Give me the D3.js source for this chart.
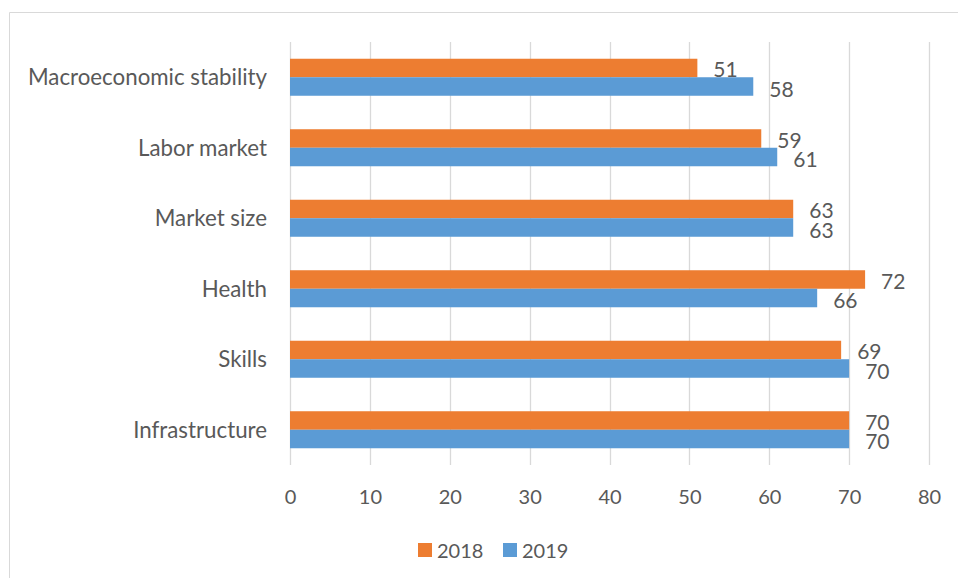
<!DOCTYPE html>
<html>
<head>
<meta charset="utf-8">
<script src="https://cdn.jsdelivr.net/npm/d3@7"></script>
<style>
  html, body { margin: 0; padding: 0; background: #fff; }
  svg { display: block; }
  text { font-family: Lato, "Open Sans", sans-serif; fill: #595959; }
</style>
</head>
<body>
<svg id="chart" width="958" height="578"></svg>
<script>
// Pillar scores by year
const categories = ["Macroeconomic stability", "Labor market", "Market size", "Health", "Skills", "Infrastructure"];
const series = ["2018", "2019"];
const values2018 = [51, 59, 63, 72, 69, 70];
const values2019 = [58, 61, 63, 66, 70, 70];
const xTicks = [0, 10, 20, 30, 40, 50, 60, 70, 80];
const colors = ["#ED7D31", "#5B9BD5"];

const svg = d3.select("#chart");
const W = 958, H = 578;

// outer frame (top and left edges visible)
svg.append("line").attr("x1", 9.5).attr("x2", W).attr("y1", 12.5).attr("y2", 12.5)
  .attr("stroke", "#D9D9D9").attr("stroke-width", 1);
svg.append("line").attr("x1", 9.5).attr("x2", 9.5).attr("y1", 12.5).attr("y2", H)
  .attr("stroke", "#D9D9D9").attr("stroke-width", 1);

const plot = { left: 290, right: 929, top: 42, bottom: 465 };

const x = d3.scaleLinear().domain([0, 80]).range([plot.left, plot.right]);
const y = d3.scaleBand().domain(categories).range([plot.top, plot.bottom]).paddingInner(0.475).paddingOuter(0.2375);
const ySub = d3.scaleBand().domain(series).range([0, y.bandwidth()]);

// vertical gridlines
svg.append("g").selectAll("line").data(xTicks).join("line")
  .attr("x1", d => Math.round(x(d)) + 0.5).attr("x2", d => Math.round(x(d)) + 0.5)
  .attr("y1", plot.top).attr("y2", plot.bottom)
  .attr("stroke", "#D9D9D9").attr("stroke-width", 1.3);

// x axis tick labels
const xAxis = d3.axisBottom(x).tickValues(xTicks).tickSize(0).tickPadding(0).tickFormat(d3.format("d"));
const gx = svg.append("g").attr("transform", `translate(0,${plot.bottom + 39})`).call(xAxis);
gx.select(".domain").remove();
gx.selectAll("text").attr("dy", 0).attr("font-size", 20).style("font-family", "Lato, sans-serif").attr("fill", "#595959");

// category labels
const yAxis = d3.axisLeft(y).tickSize(0).tickPadding(0);
const gy = svg.append("g").attr("transform", `translate(${plot.left - 23},0)`).call(yAxis);
gy.select(".domain").remove();
gy.selectAll("text").attr("font-size", 22.3).attr("dy", "0.36em")
  .style("font-family", "Lato, sans-serif").attr("fill", "#595959");

// bars
const rows = categories.map((c, i) => ({ cat: c, vals: [values2018[i], values2019[i]] }));
const groups = svg.append("g").selectAll("g").data(rows).join("g")
  .attr("transform", d => `translate(0,${y(d.cat)})`);

groups.selectAll("rect").data(d => d.vals.map((v, j) => ({ s: series[j], v, j }))).join("rect")
  .attr("x", x(0))
  .attr("y", d => ySub(d.s))
  .attr("width", d => x(d.v) - x(0))
  .attr("height", ySub.bandwidth())
  .attr("fill", d => colors[d.j]);

// value labels
groups.selectAll("text").data(d => d.vals.map((v, j) => ({ s: series[j], v, j }))).join("text")
  .attr("x", d => x(d.v) + 16)
  .attr("y", d => ySub(d.s) + ySub.bandwidth() / 2 + (d.j === 0 ? 1.5 : 2.5))
  .attr("dy", "0.36em")
  .attr("font-size", 21)
  .attr("fill", "#404040")
  .text(d => d.v);

// legend
const legend = svg.append("g").attr("transform", "translate(418,543)");
const li = legend.selectAll("g").data(series).join("g")
  .attr("transform", (d, i) => `translate(${i * 85},0)`);
li.append("rect").attr("width", 14).attr("height", 14).attr("fill", (d, i) => colors[i]);
li.append("text").attr("x", 19).attr("y", 15).attr("font-size", 20).text(d => d);
</script>
</body>
</html>
